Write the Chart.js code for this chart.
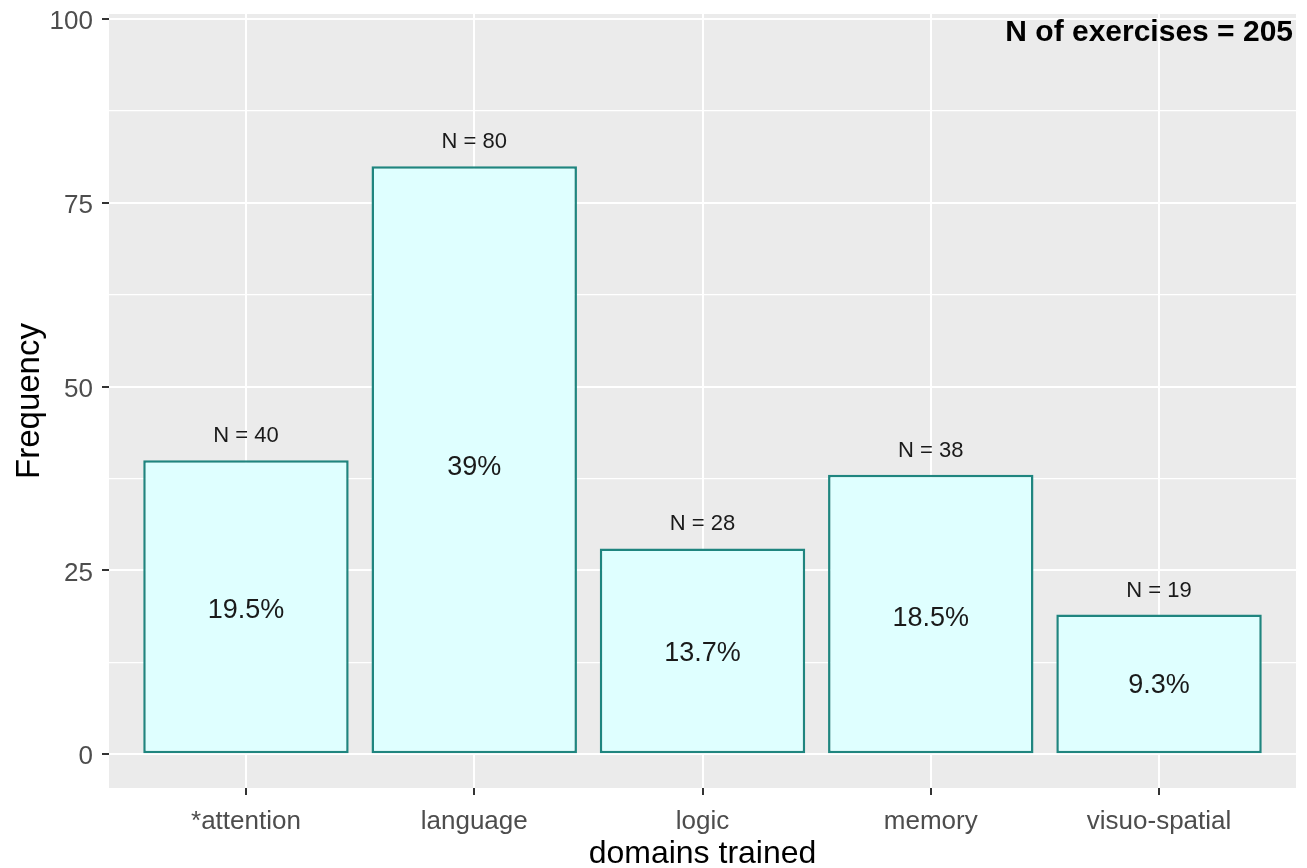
<!DOCTYPE html>
<html>
<head>
<meta charset="utf-8">
<title>Domains trained</title>
<script src="https://cdn.jsdelivr.net/npm/chart.js@4/dist/chart.umd.min.js"></script>
<style>
  html, body { margin: 0; padding: 0; background: #ffffff; }
  #wrap { width: 1307px; height: 868px; position: relative; }
  canvas { display: block; }
</style>
</head>
<body>
<div id="wrap"><canvas id="chart" width="1307" height="868"></canvas></div>
<script>
// Exercises per trained cognitive domain
const categories = ['*attention', 'language', 'logic', 'memory', 'visuo-spatial'];
const counts = [40, 80, 28, 38, 19];
const percentValues = [19.5, 39, 13.7, 18.5, 9.3];
const percentLabels = ['19.5%', '39%', '13.7%', '18.5%', '9.3%'];
const countLabels = ['N = 40', 'N = 80', 'N = 28', 'N = 38', 'N = 19'];
const yMajorTicks = [0, 25, 50, 75, 100];
const yMinorTicks = [12.5, 37.5, 62.5, 87.5];
const totalLabel = 'N of exercises = 205';
const xTitle = 'domains trained';
const yTitle = 'Frequency';

const FONT = '"Liberation Sans", Arial, sans-serif';

// grey panel behind the plotting area
const panelBackground = {
  id: 'panelBackground',
  beforeDraw(chart) {
    const { ctx, chartArea: a } = chart;
    ctx.save();
    ctx.fillStyle = '#EBEBEB';
    ctx.fillRect(a.left, a.top, a.right - a.left, a.bottom - a.top);
    ctx.restore();
  }
};

// count labels above bars, percentages inside, annotation and axis titles
const textLayer = {
  id: 'textLayer',
  afterDatasetsDraw(chart) {
    const { ctx, chartArea: a, scales } = chart;
    const meta = chart.getDatasetMeta(0);
    const ys = scales.y;
    ctx.save();
    ctx.textAlign = 'center';
    ctx.textBaseline = 'middle';
    meta.data.forEach((bar, i) => {
      ctx.fillStyle = '#1a1a1a';
      ctx.font = '22px ' + FONT;
      ctx.fillText(countLabels[i], bar.x, ys.getPixelForValue(counts[i]) - 24);
      ctx.font = '27px ' + FONT;
      ctx.fillText(percentLabels[i], bar.x, ys.getPixelForValue(percentValues[i]));
    });

    ctx.fillStyle = '#000000';
    ctx.font = 'bold 30px ' + FONT;
    ctx.textAlign = 'right';
    ctx.fillText(totalLabel, a.right - 3, a.top + 19);

    ctx.font = '32px ' + FONT;
    ctx.textAlign = 'center';
    ctx.textBaseline = 'alphabetic';
    ctx.fillText(xTitle, (a.left + a.right) / 2, 863);

    ctx.font = '33px ' + FONT;
    ctx.translate(39, (a.top + a.bottom) / 2);
    ctx.rotate(-Math.PI / 2);
    ctx.fillText(yTitle, 0, 0);
    ctx.restore();
  }
};

new Chart(document.getElementById('chart'), {
  type: 'bar',
  data: {
    datasets: [{
      data: counts.map((c, i) => ({ x: i + 1, y: c })),
      backgroundColor: '#DFFFFF',
      borderColor: '#1F857F',
      borderWidth: 2.5,
      borderSkipped: false,
      categoryPercentage: 0.9,
      barPercentage: 1.0
    }]
  },
  options: {
    responsive: false,
    animation: false,
    devicePixelRatio: 1,
    layout: { padding: { left: 0, top: 14, right: 11, bottom: 0 } },
    plugins: {
      legend: { display: false },
      tooltip: { enabled: false }
    },
    scales: {
      x: {
        type: 'linear',
        min: 0.4,
        max: 5.6,
        offset: false,
        afterBuildTicks(scale) {
          scale.ticks = categories.map((_, i) => ({ value: i + 1 }));
        },
        afterFit(scale) {
          scale.height = 80;
          scale.paddingLeft = 0;
          scale.paddingRight = 0;
        },
        ticks: {
          autoSkip: false,
          maxRotation: 0,
          padding: 11,
          color: '#4D4D4D',
          font: { family: FONT, size: 26 },
          callback: (v) => categories[Math.round(v) - 1] || ''
        },
        grid: {
          offset: false,
          color: '#FFFFFF',
          lineWidth: 2,
          tickColor: '#333333',
          tickLength: 7,
          tickWidth: 2
        },
        border: { display: false }
      },
      y: {
        min: -4.6,
        max: 100.7,
        afterBuildTicks(scale) {
          scale.ticks = yMajorTicks.concat(yMinorTicks)
            .sort((p, q) => p - q)
            .map(v => ({ value: v }));
        },
        afterFit(scale) {
          scale.width = 109;
          scale.paddingTop = 0;
          scale.paddingBottom = 0;
        },
        ticks: {
          padding: 9,
          labelOffset: 3,
          color: '#4D4D4D',
          font: { family: FONT, size: 26 },
          callback: (v) => yMajorTicks.includes(v) ? String(v) : ''
        },
        grid: {
          color: '#FFFFFF',
          lineWidth: (ctx) => yMajorTicks.includes(ctx.tick && ctx.tick.value) ? 2 : 1.2,
          tickColor: (ctx) => yMajorTicks.includes(ctx.tick && ctx.tick.value) ? '#333333' : 'rgba(0,0,0,0)',
          tickLength: 7,
          tickWidth: 2
        },
        border: { display: false }
      }
    }
  },
  plugins: [panelBackground, textLayer]
});
</script>
</body>
</html>
